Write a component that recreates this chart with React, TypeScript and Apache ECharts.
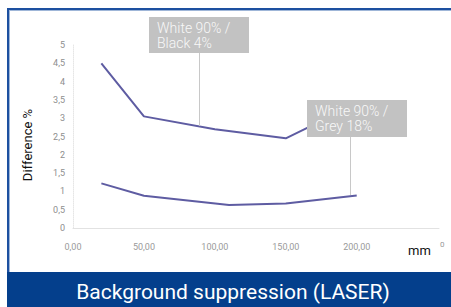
import React, { useEffect, useRef } from "react";
import * as echarts from "echarts";

const seriesNames = ["White 90% / Black 4%", "White 90% / Grey 18%"];
const blackX = [20, 50, 100, 150, 200];
const blackY = [4.5, 3.05, 2.7, 2.45, 3.4];
const greyX = [20, 50, 110, 150, 200];
const greyY = [1.22, 0.88, 0.63, 0.67, 0.89];
const title = "Background suppression (LASER)";
const yTitle = "Difference %";
const xUnit = "mm";

const FONT = "Roboto, 'Noto Sans', sans-serif";

export default function App() {
  const ref = useRef<HTMLDivElement>(null);
  useEffect(() => {
    if (!ref.current) return;
    const chart = echarts.init(ref.current, null, { renderer: "svg" });
    const lineColor = "#5e5ca2";
    const boxColor = "#c2c2c2";
    chart.setOption({
      animation: false,
      backgroundColor: "#ffffff",
      textStyle: { fontFamily: FONT },
      grid: { left: 73, right: 12, top: 45, bottom: 79, containLabel: false },
      xAxis: {
        type: "value",
        min: 0,
        max: 258,
        interval: 50,
        axisLine: { show: true, lineStyle: { color: "#e2e2e2", width: 1 } },
        axisTick: { show: false },
        splitLine: { show: false },
        axisLabel: {
          color: "#9a9a9a",
          fontSize: 9,
          margin: 14,
          formatter: (v: number) => (v > 200 ? "" : v.toFixed(2).replace(".", ",")),
        },
      },
      yAxis: {
        type: "value",
        min: 0,
        max: 5,
        interval: 0.5,
        axisLine: { show: true, lineStyle: { color: "#e6e6e6", width: 1, type: "dotted" } },
        axisTick: { show: false },
        splitLine: { show: false },
        axisLabel: {
          color: "#8e8e8e",
          fontSize: 9,
          margin: 8,
          formatter: (v: number) => String(v).replace(".", ","),
        },
      },
      series: [
        {
          name: seriesNames[0],
          type: "line",
          data: blackX.map((x, i) => [x, blackY[i]]),
          symbol: "none",
          lineStyle: { color: lineColor, width: 2 },
          z: 2,
        },
        {
          name: seriesNames[1],
          type: "line",
          data: greyX.map((x, i) => [x, greyY[i]]),
          symbol: "none",
          lineStyle: { color: lineColor, width: 2 },
          z: 2,
        },
      ],
      graphic: [
        // frame
        { type: "rect", shape: { x: 7, y: 8, width: 444, height: 2 }, style: { fill: "#1d50a0" }, z: 10 },
        { type: "rect", shape: { x: 7, y: 10, width: 444, height: 1 }, style: { fill: "#9fb6d8" }, z: 10 },
        { type: "rect", shape: { x: 7, y: 8, width: 2, height: 270 }, style: { fill: "#1d50a0" }, z: 10 },
        { type: "rect", shape: { x: 9, y: 10, width: 1, height: 262 }, style: { fill: "#9fb6d8" }, z: 10 },
        // banner
        { type: "rect", shape: { x: 7, y: 272, width: 444, height: 35 }, style: { fill: "#043f8c" }, z: 10 },
        {
          type: "text",
          x: 233,
          y: 292,
          style: {
            text: title,
            fill: "#ffffff",
            font: `21px ${FONT}`,
            align: "center",
            verticalAlign: "middle",
          },
          z: 11,
        },
        // y title
        {
          type: "text",
          x: 27,
          y: 145,
          rotation: Math.PI / 2,
          style: {
            text: yTitle,
            fill: "#111111",
            font: `13px ${FONT}`,
            align: "center",
            verticalAlign: "middle",
          },
          z: 11,
        },
        // x unit
        {
          type: "text",
          x: 408,
          y: 250,
          style: { text: xUnit, fill: "#111111", font: `13px ${FONT}`, align: "left", verticalAlign: "middle" },
          z: 11,
        },
        {
          type: "text",
          x: 440,
          y: 244,
          style: { text: "0", fill: "#999999", font: `8px ${FONT}`, align: "left", verticalAlign: "middle" },
          z: 11,
        },
        // label 1
        { type: "line", shape: { x1: 199.5, y1: 53, x2: 199.5, y2: 126 }, style: { stroke: "#c8c8c8", lineWidth: 1 }, z: 5 },
        { type: "rect", shape: { x: 149, y: 17, width: 100, height: 36 }, style: { fill: boxColor }, z: 12 },
        {
          type: "text",
          x: 157,
          y: 35,
          style: {
            text: "White 90% /\nBlack 4%",
            fill: "#f8f8f8",
            font: `300 14px ${FONT}`,
            lineHeight: 15,
            align: "left",
            verticalAlign: "middle",
          },
          z: 13,
        },
        // label 2
        { type: "line", shape: { x1: 350.5, y1: 137, x2: 350.5, y2: 195 }, style: { stroke: "#c8c8c8", lineWidth: 1 }, z: 5 },
        { type: "rect", shape: { x: 307, y: 100, width: 100, height: 37 }, style: { fill: boxColor }, z: 12 },
        {
          type: "text",
          x: 315,
          y: 118.5,
          style: {
            text: "White 90% /\nGrey 18%",
            fill: "#f8f8f8",
            font: `300 14px ${FONT}`,
            lineHeight: 15,
            align: "left",
            verticalAlign: "middle",
          },
          z: 13,
        },
      ],
    });
    return () => chart.dispose();
  }, []);
  return (
    <div
      ref={ref}
      style={{ position: "absolute", left: 0, top: 0, width: 451, height: 307 }}
    />
  );
}
